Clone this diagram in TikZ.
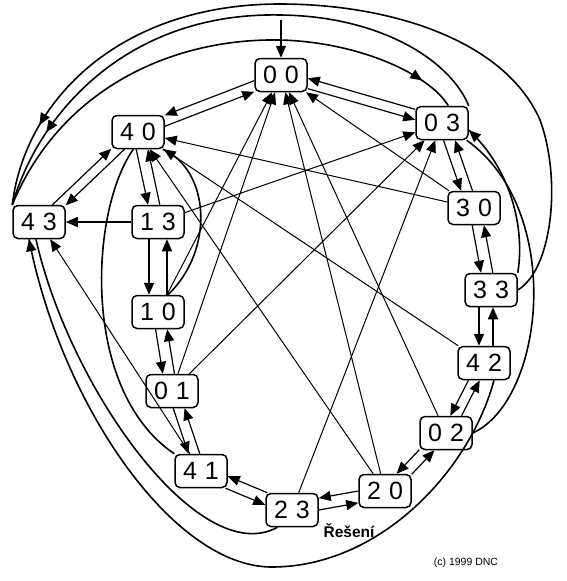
\documentclass[tikz,border=0pt]{standalone}
\usepackage{fontspec}
\setmainfont{Liberation Sans}
\usetikzlibrary{arrows.meta, decorations.markings}

\tikzset{
  state/.style={draw, line width=1.5pt, rounded corners=5pt, fill=white,
    minimum width=52pt, minimum height=33pt, inner sep=0pt,
    font=\fontsize{25}{25}\selectfont},
  edge/.style={->, line width=1pt},
  arc/.style={line width=1.6pt, postaction={decorate},
    decoration={markings, mark=at position #1 with {\arrow{Triangle[length=12pt,width=10pt]}}}},
}
\newcommand\digits[2]{#1\hspace{0.32em}#2}

\begin{document}
\begin{tikzpicture}[x=1pt, y=-1pt, >={Triangle[length=12pt,width=10pt]}]
  \useasboundingbox (0,0) rectangle (567,581);
  % states
  \node[state] (s00) at (281,75) {\digits00};
  \node[state] (s40) at (138,132) {\digits40};
  \node[state] (s03) at (442,123) {\digits03};
  \node[state] (s43) at (39,222) {\digits43};
  \node[state] (s13) at (158,222) {\digits13};
  \node[state] (s30) at (474,208) {\digits30};
  \node[state] (s33) at (491,290) {\digits33};
  \node[state] (s10) at (158,312) {\digits10};
  \node[state] (s42) at (484,363) {\digits42};
  \node[state] (s01) at (172,391) {\digits01};
  \node[state] (s02) at (446,433) {\digits02};
  \node[state] (s41) at (201,471) {\digits41};
  \node[state] (s20) at (385,491) {\digits20};
  \node[state] (s23) at (292,510) {\digits23};
  \coordinate (start) at (281,20);
  \draw[edge, line width=1.2pt] (start) -- (s00);
  % two-way moves
  \foreach \a/\b/\t/\d in {s40/s00/22/10, s00/s03/-17/10, s40/s43/222/-10,
      s40/s13/-78/18, s03/s30/-69/16, s30/s33/-78/18, s10/s01/-80/18,
      s42/s02/-118/14, s01/s41/-70/16, s41/s23/-23/12, s23/s20/12/12,
      s20/s02/44/12} {
    \pgfmathtruncatemacro\pa{\t-\d}
    \pgfmathtruncatemacro\pb{180+\t+\d}
    \pgfmathtruncatemacro\qa{180+\t-\d}
    \pgfmathtruncatemacro\qb{\t+\d}
    \draw[edge, line width=1.2pt] (\a.\pa) -- (\b.\pb);
    \draw[edge, line width=1.2pt] (\b.\qa) -- (\a.\qb);
  }
  \draw[edge, line width=1.6pt] ([xshift=-9pt]s13.south) -- ([xshift=-9pt]s10.north);
  \draw[edge, line width=1.6pt] ([xshift=9pt]s10.north) -- ([xshift=9pt]s13.south);
  \draw[edge, line width=1.6pt] ([xshift=-12pt]s33.south) -- ([xshift=-5pt]s42.north);
  \draw[edge, line width=1.6pt] ([xshift=9pt]s42.north) -- ([xshift=2pt]s33.south);
  % one-way moves
  \draw[edge, line width=1.6pt] (s13) -- (s43);
  \draw[edge] (s13) -- (s03);
  \draw[edge] (s30) -- (s40);
  \draw[edge] (s30) -- (s00);
  \draw[edge] (s10) -- (s00);
  \draw[edge] (s42) -- (s40);
  \draw[edge] (s01) -- (s03);
  \draw[edge] (s01) -- (s00);
  \draw[edge] (s02) -- (s00);
  \draw[edge] (s41) -- (s43);
  \draw[edge] (s20) -- (s40);
  \draw[edge] (s20) -- (s00);
  \draw[edge] (s23) -- (s03);
  % long arcs
  \draw[arc=0.93] (s43.north west) .. controls (60,90) and (170,38) .. (280,40)
    .. controls (360,42) and (430,75) .. (s03.70);
  \draw[arc=0.86] (s03.north east) .. controls (450,60) and (380,16) .. (280,15)
    .. controls (130,12) and (40,110) .. (s43.north west);
  \draw[arc=0.9] (s33.east) .. controls (552,270) and (562,180) .. (540,120)
    .. controls (505,40) and (390,4) .. (280,4)
    .. controls (120,4) and (25,100) .. (s43.north west);
  \draw[arc=1] (s33.north east) .. controls (525,230) and (512,170) .. (s03.-15);
  \draw[arc=1] (s02.east) .. controls (545,400) and (565,210) .. (s03.-35);
  \draw[arc=1] (s42.-60) .. controls (470,470) and (380,568) .. (270,567)
    .. controls (170,565) and (60,400) .. (s43.-120);
  \draw[arc=1] (s23.-130) .. controls (200,570) and (70,390) .. (s43.-100);
  \draw[arc=1] (s41.north west) .. controls (80,390) and (90,210) .. (s40.-105);
  \draw[arc=1] (s10.60) .. controls (215,250) and (210,170) .. (s40.-35);
  % captions
  \node[font=\fontsize{15.5}{16}\selectfont\bfseries] (title) at (349,531) {Řešení};
  \node[font=\fontsize{10.5}{11}\selectfont] (copy) at (466,563) {(c) 1999 DNC};
\end{tikzpicture}
\end{document}
